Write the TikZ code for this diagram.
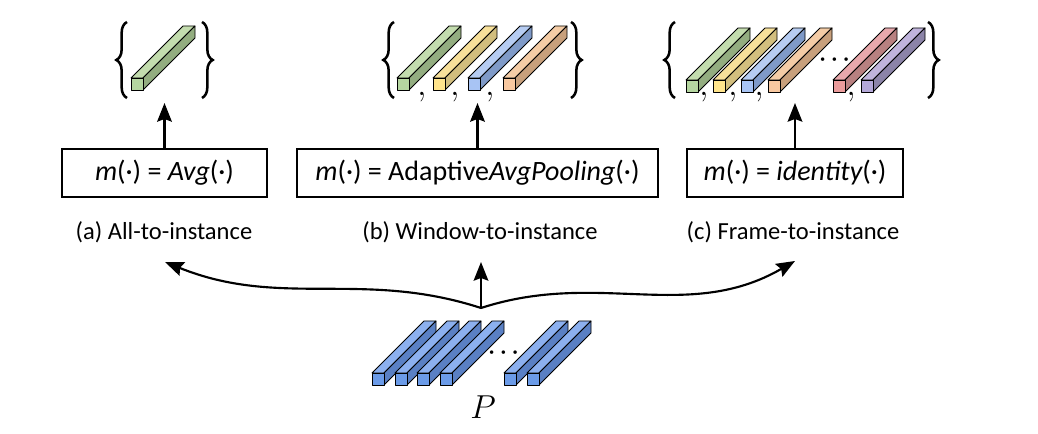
\documentclass[tikz,border=0pt]{standalone}
\usepackage{fontspec}
\setmainfont{Carlito}
\usetikzlibrary{arrows.meta,decorations.pathreplacing}

\definecolor{grnF}{HTML}{B5D6A0}\definecolor{grnT}{HTML}{C3DCAE}\definecolor{grnS}{HTML}{93AD80}
\definecolor{ylwF}{HTML}{FFE48C}\definecolor{ylwT}{HTML}{F7E09A}\definecolor{ylwS}{HTML}{D2BE7E}
\definecolor{bluF}{HTML}{A8C4F4}\definecolor{bluT}{HTML}{B6CCF2}\definecolor{bluS}{HTML}{7F9AC8}
\definecolor{orgF}{HTML}{F8C8A0}\definecolor{orgT}{HTML}{F4CCA6}\definecolor{orgS}{HTML}{C8A07C}
\definecolor{redF}{HTML}{EB9C9C}\definecolor{redT}{HTML}{E8A8AC}\definecolor{redS}{HTML}{B88080}
\definecolor{prpF}{HTML}{B4A8D8}\definecolor{prpT}{HTML}{C0B4DC}\definecolor{prpS}{HTML}{8C84A8}
\definecolor{frmF}{HTML}{6B9BE8}\definecolor{frmT}{HTML}{8CB0EF}\definecolor{frmS}{HTML}{5A80C4}

% one feature bar: #1,#2 = top left corner of the front face, #3 = colour prefix
\newcommand{\prism}[3]{%
  \filldraw[fill=#3T,line width=.6pt,line join=round] (#1,#2) -- ++(12,0) -- ++(52,52) -- ++(-12,0) -- cycle;
  \filldraw[fill=#3S,line width=.6pt,line join=round] (#1+12,#2) -- ++(0,-12) -- ++(52,52) -- ++(0,12) -- cycle;
  \filldraw[fill=#3F,line width=.6pt,line join=round] (#1,#2) rectangle ++(12,-12);
}

\begin{document}
\begin{tikzpicture}[x=.75pt,y=.75pt,line width=1.6pt,>={Stealth[length=14pt,width=11pt,inset=2pt]},
    mapbox/.style={draw,line width=2.1pt,minimum height=36pt,inner sep=0pt,font=\fontsize{21}{25}\selectfont},
    sublabel/.style={font=\fontsize{18.4}{22}\selectfont},
    setbrace/.style={decorate,decoration={brace,amplitude=8pt},line width=1.9pt},
    sep/.style={inner sep=0pt,font=\fontsize{25}{30}\selectfont}]
        \useasboundingbox (0,0) rectangle (1038,434);

        % boxes and captions
        \node[mapbox,minimum width=153.75pt] (boxAll) at (164.5,261) {{\itshape m}(·) = {\itshape Avg}(·)};
        \node[mapbox,minimum width=270.75pt] (boxWin) at (477.5,261) {{\itshape m}(·) = Adaptive{\itshape AvgPooling}(·)};
        \node[mapbox,minimum width=162pt] (boxFrame) at (795,261) {{\itshape m}(·) = {\itshape identity}(·)};

        \node[sublabel] (labAll) at (164,202) {(a) All-to-instance};
        \node[sublabel] (labWin) at (480,202) {(b) Window-to-instance};
        \node[sublabel] (labFrame) at (793,202) {(c) Frame-to-instance};

        % output sets
        \draw[setbrace] (127,336) -- (127,412);
        \draw[setbrace] (202,412) -- (202,336);
        \prism{131}{356}{grn}

        \draw[setbrace] (394,336) -- (394,412);
        \draw[setbrace] (571,412) -- (571,336);
        \prism{397}{356}{grn}
        \prism{433}{356}{ylw}
        \prism{468}{356}{blu}
        \prism{503}{356}{org}
        \foreach \cx in {422,455,490}
            \node[sep] (commaB\cx) at (\cx,337) {$,$};

        \draw[setbrace] (675,336) -- (675,412);
        \draw[setbrace] (928,412) -- (928,336);
        \prism{686}{354}{grn}
        \prism{713}{354}{ylw}
        \prism{741}{354}{blu}
        \prism{768}{354}{org}
        \prism{833}{354}{red}
        \prism{861}{354}{prp}
        \foreach \cx in {704,733,759,851}
            \node[sep] (commaC\cx) at (\cx,337) {$,$};
        \node[sublabel] (dotsFrame) at (834.5,372) {· · ·};

        % input frames
        \prism{372}{61}{frm}
        \prism{395}{61}{frm}
        \prism{417}{61}{frm}
        \prism{440}{61}{frm}
        \prism{504}{61}{frm}
        \prism{527}{61}{frm}
        \node[sublabel] (dotsP) at (503.5,79) {· · ·};
        \node[font=\fontsize{24}{29}\selectfont] (pLabel) at (483,27) {$P$};

        \coordinate (setAll) at (164.5,331);
        \coordinate (setWin) at (477.5,331);
        \coordinate (setFrame) at (795,331);
        \coordinate (split) at (481,126);
        \coordinate (toAll) at (165,172);
        \coordinate (toWin) at (481,172);
        \coordinate (toFrame) at (795,173);

        \draw[->] (boxAll) -- (setAll);
        \draw[->] (boxWin) -- (setWin);
        \draw[->] (boxFrame) -- (setFrame);
        \draw[->] (split) -- (toWin);
        \draw[->] (split) to[out=162,in=-22] (toAll);
        \draw[->] (split) to[out=18,in=210] (toFrame);

    \end{tikzpicture}
\end{document}
